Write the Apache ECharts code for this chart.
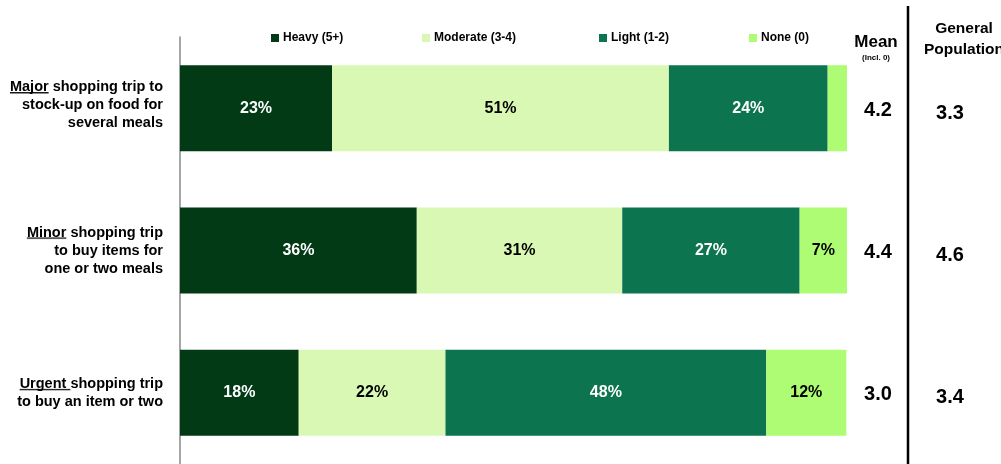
<!DOCTYPE html>
<html>
<head>
<meta charset="utf-8">
<script src="https://cdn.jsdelivr.net/npm/echarts@6/dist/echarts.min.js"></script>
<style>
  html, body { margin: 0; padding: 0; background: #fff; }
  #chart { width: 1001px; height: 464px; }
</style>
</head>
<body>
<div id="chart"></div>
<script>
// data (shares in %)
const trips = [
  '{u|Major} shopping trip to\nstock-up on food for\nseveral meals',
  '{u|Minor} shopping trip\nto buy items for\none or two meals',
  '{u|Urgent }shopping trip\nto buy an item or two'
]
const heavy = [22.8, 35.5, 17.8]
const moderate = [50.5, 30.8, 22.0]
const light = [23.8, 26.6, 48.1]
const none = [2.9, 7.1, 12.0]
const meanIncl0 = ['4.2', '4.4', '3.0']
const generalPop = ['3.3', '4.6', '3.4']

const seriesNames = ['Heavy (5+)', 'Moderate (3-4)', 'Light (1-2)', 'None (0)']
const colors = ['#013A15', '#D9F8B3', '#0C7550', '#AEFB74']
const labelColors = ['#fff', '#000', '#fff', '#000']
const legendLeft = [266, 417, 594, 744]

const font = '"Liberation Sans", Arial, sans-serif'

// tiny canvas used as an underline background for rich text
const ul = document.createElement('canvas')
ul.width = 4
ul.height = 18
const ctx = ul.getContext('2d')
ctx.fillStyle = '#000'
ctx.fillRect(0, 15, 4, 1.5)

const chart = echarts.init(document.getElementById('chart'))

const makeSeries = (name, data, i) => ({
  name: name,
  type: 'bar',
  stack: 'all',
  barWidth: 86,
  data: data,
  itemStyle: { color: colors[i] },
  label: {
    show: true,
    position: 'inside',
    color: labelColors[i],
    fontFamily: font,
    fontWeight: 'bold',
    fontSize: 16,
    formatter: p => p.value >= 5 ? Math.round(p.value) + '%' : ''
  },
  emphasis: { disabled: true }
})

// right-hand value columns, sitting a little below the bar centre like in the original
const sideAxis = (data, margin, lh) => ({
  type: 'category',
  inverse: true,
  position: 'right',
  data: data,
  axisLine: { show: false },
  axisTick: { show: false },
  axisLabel: {
    margin: margin,
    align: 'center',
    verticalAlign: 'top',
    fontFamily: font,
    fontWeight: 'bold',
    fontSize: 20,
    color: '#000',
    lineHeight: lh
  }
})

const option = {
  animation: false,
  backgroundColor: '#fff',
  textStyle: { fontFamily: font },
  legend: seriesNames.map((n, i) => ({
    data: [n],
    left: legendLeft[i],
    top: 27,
    icon: 'rect',
    itemWidth: 8,
    itemHeight: 8,
    itemGap: 0,
    selectedMode: false,
    textStyle: { fontFamily: font, fontWeight: 'bold', fontSize: 12, color: '#000', padding: [0, 0, 0, -1] }
  })),
  title: [
    { text: 'Mean', left: 871, top: 29, textAlign: 'center',
      textStyle: { fontFamily: font, fontWeight: 'bold', fontSize: 17, color: '#000' } },
    { text: '(Incl. 0)', left: 871, top: 49, textAlign: 'center',
      textStyle: { fontFamily: font, fontWeight: 'bold', fontSize: 8, color: '#000' } },
    { text: 'General\nPopulation', left: 959, top: 13, textAlign: 'center',
      textStyle: { fontFamily: font, fontWeight: 'bold', fontSize: 15.5, lineHeight: 21, color: '#000' } }
  ],
  grid: { left: 180, right: 154, top: 37, bottom: 0 },
  xAxis: { type: 'value', min: 0, max: 100, show: false },
  yAxis: [
    {
      type: 'category',
      inverse: true,
      data: trips.map((t, i) => i === 0 ? { value: t, textStyle: { padding: [0, 0, 6, 0] } } : t),
      axisLine: { show: true, lineStyle: { color: '#888', width: 1.5 } },
      axisTick: { show: false },
      axisLabel: {
        margin: 17,
        align: 'right',
        fontFamily: font,
        fontWeight: 'bold',
        fontSize: 14.5,
        lineHeight: 18,
        color: '#000',
        rich: {
          u: { fontFamily: font, fontWeight: 'bold', fontSize: 14.5, lineHeight: 18, color: '#000',
               backgroundColor: { image: ul } }
        }
      }
    },
    sideAxis(meanIncl0, 31, 4),
    sideAxis(generalPop, 103, 10)
  ],
  graphic: [
    { type: 'line', shape: { x1: 908, y1: 6, x2: 908, y2: 464 }, style: { stroke: '#000', lineWidth: 2.5 } }
  ],
  series: [
    makeSeries(seriesNames[0], heavy, 0),
    makeSeries(seriesNames[1], moderate, 1),
    makeSeries(seriesNames[2], light, 2),
    makeSeries(seriesNames[3], none, 3)
  ]
}

chart.setOption(option)
</script>
</body>
</html>
